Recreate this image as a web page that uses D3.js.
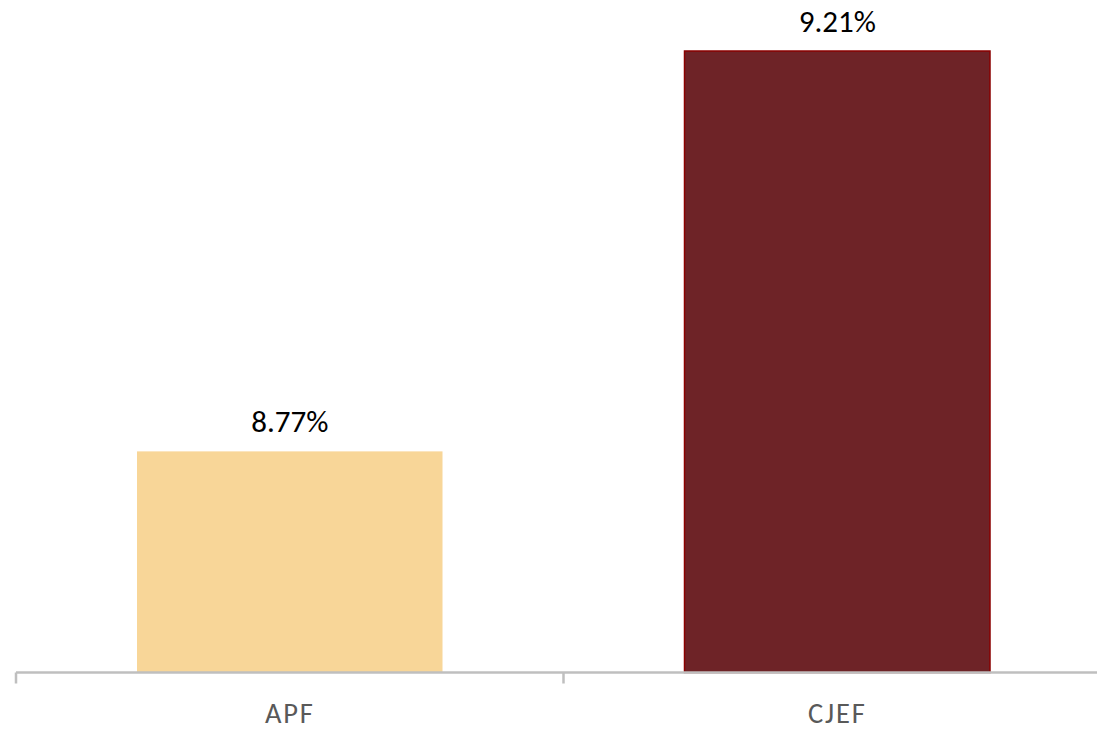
<!DOCTYPE html>
<html>
<head>
<meta charset="utf-8">
<title>APF vs CJEF</title>
<style>
  body { margin: 0; background: #fff; }
  svg { display: block; }
  .val { font-family: Carlito, Lato, "Noto Sans", sans-serif; font-size: 31px; fill: #000; }
  .cat { font-family: Carlito, Lato, "Noto Sans", sans-serif; font-size: 28.5px; letter-spacing: 1.8px; fill: #595959; }
</style>
<script src="https://cdnjs.cloudflare.com/ajax/libs/d3/7.8.5/d3.min.js"></script>
</head>
<body>
<svg width="1097" height="734"></svg>
<script>
// data
var categories = ["APF", "CJEF"];
var values = [8.77, 9.21];
var labels = ["8.77%", "9.21%"];
var fills = ["#f8d698", "#6e2327"];
var strokes = ["none", "#8b0000"];
var yDomain = [8.527, 9.21];

var svg = d3.select("svg");
var baseY = 672.5;

var x = d3.scaleBand().domain(categories).range([16, 1111]).padding(0);
var y = d3.scaleLinear().domain(yDomain).range([baseY, 51]);
var barW = x.bandwidth() * 0.558;

var g = svg.append("g");

g.selectAll(".bar")
  .data(values)
  .enter().append("rect")
  .attr("class", "bar")
  .attr("x", function(d, i) { return x(categories[i]) + (x.bandwidth() - barW) / 2; })
  .attr("y", function(d) { return y(d); })
  .attr("width", barW)
  .attr("height", function(d) { return baseY - y(d); })
  .attr("fill", function(d, i) { return fills[i]; })
  .attr("stroke", function(d, i) { return strokes[i]; })
  .attr("stroke-width", 1.5);

g.selectAll(".val")
  .data(values)
  .enter().append("text")
  .attr("class", "val")
  .attr("x", function(d, i) { return x(categories[i]) + x.bandwidth() / 2; })
  .attr("y", function(d) { return y(d) - 19; })
  .attr("text-anchor", "middle")
  .text(function(d, i) { return labels[i]; });

// x axis: line with ticks at band edges
var axis = d3.axisBottom(x).tickSize(0).tickPadding(0);
var ax = svg.append("g").attr("transform", "translate(0," + baseY + ")").call(axis);
ax.select(".domain").remove();
ax.selectAll(".tick line").remove();
ax.selectAll(".tick text")
  .attr("class", "cat")
  .attr("y", 50.5)
  .attr("dy", 0)
  .attr("font-family", null)
  .attr("font-size", null)
  .attr("fill", null);
ax.attr("font-family", null).attr("font-size", null);

ax.append("line")
  .attr("x1", 16).attr("x2", 1111)
  .attr("y1", 0).attr("y2", 0)
  .attr("stroke", "#bfbfbf").attr("stroke-width", 2.5);

var edges = categories.map(function(c) { return x(c); }).concat([x.range()[1]]);
ax.selectAll(".edge")
  .data(edges)
  .enter().append("line")
  .attr("class", "edge")
  .attr("x1", function(d) { return d; }).attr("x2", function(d) { return d; })
  .attr("y1", 0).attr("y2", 11)
  .attr("stroke", "#bfbfbf").attr("stroke-width", 2.5);
</script>
</body>
</html>
